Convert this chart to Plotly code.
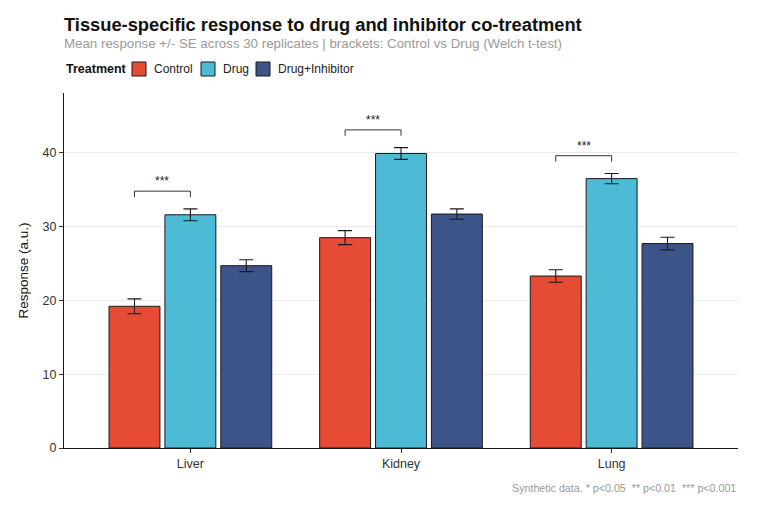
import plotly.graph_objects as go

# values
tissues = ['Liver', 'Kidney', 'Lung']
treatments = ['Control', 'Drug', 'Drug+Inhibitor']
colors = ['#E64B35', '#4DBBD5', '#3C5488']

means = {
    'Control': [19.2, 28.5, 23.3],
    'Drug': [31.6, 39.9, 36.5],
    'Drug+Inhibitor': [24.7, 31.7, 27.7],
}
ses = {
    'Control': [1.0, 0.95, 0.85],
    'Drug': [0.8, 0.8, 0.7],
    'Drug+Inhibitor': [0.8, 0.7, 0.85],
}
stars = ['***', '***', '***']

font = 'Liberation Sans, Arial, sans-serif'
bargap = 0.204

# page has an 8px body margin, so the figure is drawn 8px smaller
W, H = 752, 498
ml, mr, mt, mb = 56, 22, 85, 58
pw = W - ml - mr
ph = H - mt - mb


def px_x(px):
    # screen x (reference) -> paper x
    return (px - 8 - ml) / pw


def px_y(py):
    # screen y (reference) -> paper y
    return (H - mb + 8 - py) / ph


fig = go.Figure()
for name, col in zip(treatments, colors):
    fig.add_trace(go.Bar(
        x=tissues, y=means[name], name=name,
        marker=dict(color=col, line=dict(color='#1a1a1a', width=1)),
        error_y=dict(type='data', array=ses[name], color='#1a1a1a',
                     thickness=1.1, width=7),
    ))

# brackets Control vs Drug
slot = (1 - bargap) / len(treatments)
for i, tissue in enumerate(tissues):
    x0 = i - slot
    x1 = i
    top = max(means['Control'][i] + ses['Control'][i],
              means['Drug'][i] + ses['Drug'][i])
    yb = top + 2.4
    leg = 0.8
    for path in [(x0, yb - leg, x0, yb), (x0, yb, x1, yb), (x1, yb, x1, yb - leg)]:
        fig.add_shape(type='line', xref='x', yref='y',
                      x0=path[0], y0=path[1], x1=path[2], y1=path[3],
                      line=dict(color='#333333', width=1))
    fig.add_annotation(x=(x0 + x1) / 2, y=yb, xref='x', yref='y',
                       text=stars[i], showarrow=False, yanchor='bottom',
                       yshift=1, font=dict(size=12, color='#222222', family=font))

# legend drawn by hand to get the compact ggplot-like spacing
fig.add_annotation(x=px_x(64), y=px_y(69), xref='paper', yref='paper',
                   xanchor='left', yanchor='middle', showarrow=False,
                   text='<b>Treatment</b>', font=dict(size=12.5, color='#111111', family=font))
swatch_x = [132, 201, 256]
for name, col, sx in zip(treatments, colors, swatch_x):
    fig.add_shape(type='rect', xref='paper', yref='paper',
                  x0=px_x(sx), x1=px_x(sx + 14), y0=px_y(76), y1=px_y(62),
                  fillcolor=col, line=dict(color='#1a1a1a', width=1))
    fig.add_annotation(x=px_x(sx + 20), y=px_y(69), xref='paper', yref='paper',
                       xanchor='left', yanchor='middle', showarrow=False,
                       text=name, font=dict(size=12, color='#222222', family=font))

# titles and footer
fig.add_annotation(x=0, y=px_y(24), xref='paper', yref='paper', xanchor='left',
                   yanchor='middle', showarrow=False, xshift=-2,
                   text='<b>Tissue-specific response to drug and inhibitor co-treatment</b>',
                   font=dict(size=18.3, color='#111111', family=font))
fig.add_annotation(x=0, y=px_y(44), xref='paper', yref='paper', xanchor='left',
                   yanchor='middle', showarrow=False, xshift=-2,
                   text='Mean response +/- SE across 30 replicates | brackets: Control vs Drug (Welch t-test)',
                   font=dict(size=13.3, color='#9a9a9a', family=font))
fig.add_annotation(x=1, y=px_y(488), xref='paper', yref='paper', xanchor='right',
                   yanchor='middle', showarrow=False,
                   text='Synthetic data. * p<0.05  ** p<0.01  *** p<0.001',
                   font=dict(size=10.7, color='#9a9a9a', family=font))

fig.update_layout(
    width=W, height=H,
    margin=dict(l=ml, r=mr, t=mt, b=mb),
    paper_bgcolor='white', plot_bgcolor='white',
    font=dict(family=font, size=12, color='#333333'),
    barmode='group', bargap=bargap, bargroupgap=0.089,
    showlegend=False,
    xaxis=dict(range=[-0.6, 2.6], showline=True, linecolor='#1a1a1a', linewidth=1,
               ticks='outside', ticklen=4, tickcolor='#333333', showgrid=False,
               tickfont=dict(size=12.5, color='#333333')),
    yaxis=dict(range=[0, 48.1], showline=True, linecolor='#1a1a1a', linewidth=1,
               ticks='outside', ticklen=4, tickcolor='#333333',
               tickvals=[0, 10, 20, 30, 40], showgrid=True, gridcolor='#ebebeb',
               gridwidth=1, zeroline=False,
               title=dict(text='Response (a.u.)', font=dict(size=13.5, color='#111111'),
                          standoff=10),
               tickfont=dict(size=12.5, color='#333333')),
)

fig.write_html('out.html')
